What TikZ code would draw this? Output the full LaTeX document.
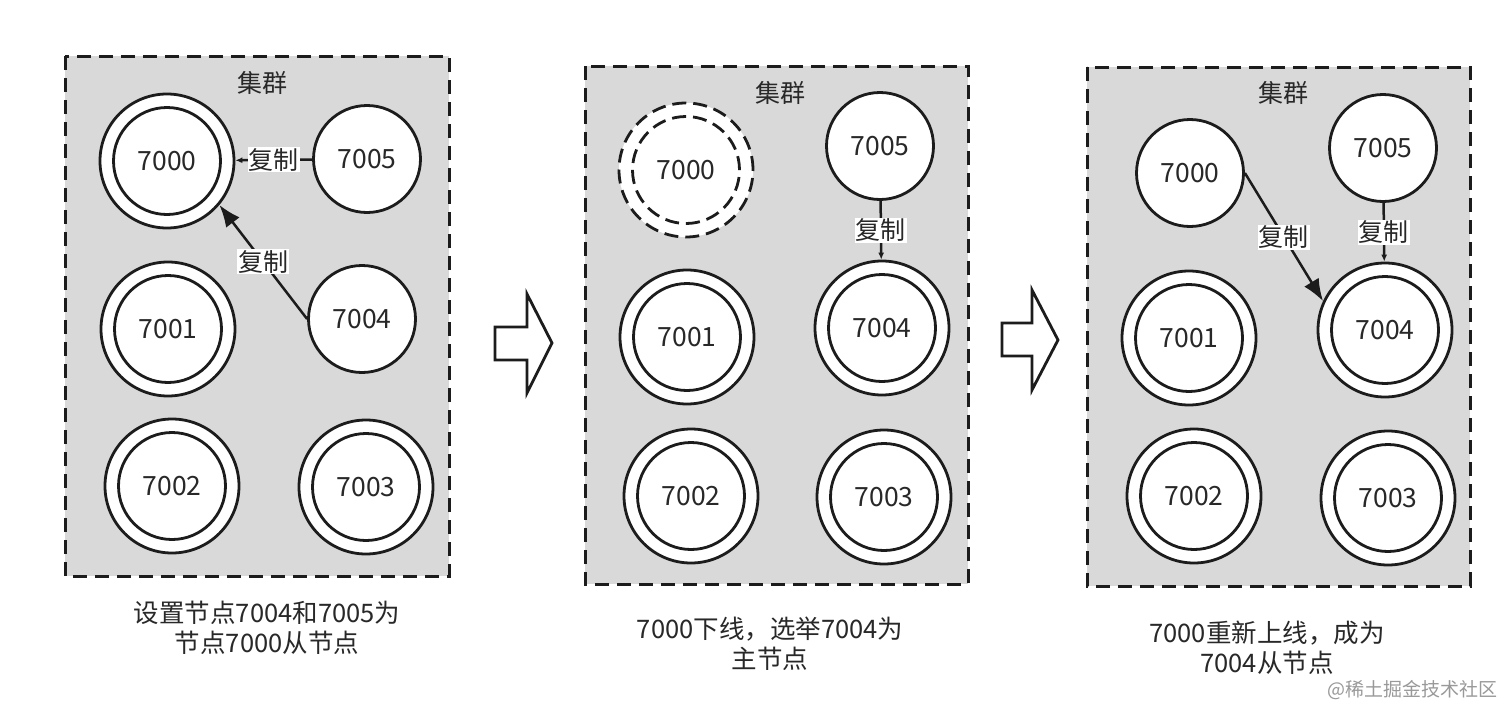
\documentclass[tikz,border=0pt]{standalone}
\usepackage{fontspec}
\setmainfont{Noto Sans CJK SC}
\usetikzlibrary{arrows.meta}
\definecolor{panelgray}{RGB}{217,217,217}
\definecolor{ink}{RGB}{28,28,28}
\definecolor{txt}{RGB}{40,40,40}
\begin{document}
\begin{tikzpicture}[x=1pt,y=-1pt,
  panel/.style={draw=ink, line width=3pt, dash pattern=on 14pt off 8pt, fill=panelgray},
  outerc/.style={circle, draw=ink, line width=2.8pt, fill=white, minimum size=134pt, inner sep=0pt},
  innerc/.style={circle, draw=ink, line width=2.8pt, fill=white, minimum size=107pt, inner sep=0pt, font=\fontsize{26.5}{30}\selectfont, text=txt},
  deadouter/.style={outerc, dash pattern=on 14pt off 7pt},
  deadinner/.style={innerc, dash pattern=on 14pt off 7pt},
  lbl/.style={fill=white, inner sep=1pt, font=\fontsize{25}{30}\selectfont, text=txt},
  title/.style={font=\fontsize{25}{30}\selectfont, text=txt},
  captext/.style={align=center, font=\fontsize{25.5}{30}\selectfont, text=txt},
  smallarr/.style={draw=ink, line width=2.5pt, -{Latex[length=7pt,width=6pt]}},
  bigarr/.style={draw=ink, line width=2.5pt, -{Latex[length=22pt,width=17pt]}},
  blockarr/.style={draw=ink, line width=2.8pt, fill=white, line join=miter}
]
\useasboundingbox (0,0) rectangle (1512,720);
\fill[white] (0,0) rectangle (1512,720);

% ---------- Panel 1 ----------
\draw[panel] (65,56) rectangle (449,576);
\node[title] (p1t) at (262,83) {集群};
\node[outerc] (p1o7000) at (167,161) {};
\node[innerc] (p1n7000) at (167,161) {7000};
\node[innerc] (p1n7005) at (367,159) {7005};
\node[outerc] (p1o7001) at (168,329) {};
\node[innerc] (p1n7001) at (168,329) {7001};
\node[innerc] (p1n7004) at (362,319) {7004};
\node[outerc] (p1o7002) at (172,486) {};
\node[innerc] (p1n7002) at (172,486) {7002};
\node[outerc] (p1o7003) at (366,487) {};
\node[innerc] (p1n7003) at (366,487) {7003};
\draw[smallarr] (p1n7005) -- node[lbl] {复制} (p1o7000);
\draw[bigarr] (p1n7004.west) -- node[lbl] {复制} (p1o7000.-40);
\node[captext] (p1c) at (267,628) {设置节点7004和7005为\\节点7000从节点};

% ---------- Arrow 1 ----------
\draw[blockarr] (495,327) -- (527,327) -- (527,294) -- (552,343) -- (527,393) -- (527,360) -- (495,360) -- cycle;

% ---------- Panel 2 ----------
\draw[panel] (585,66) rectangle (968,584);
\node[title] (p2t) at (780,93) {集群};
\node[deadouter] (p2o7000) at (686,170) {};
\node[deadinner] (p2n7000) at (686,170) {7000};
\node[innerc] (p2n7005) at (880,146) {7005};
\node[outerc] (p2o7001) at (687,337) {};
\node[innerc] (p2n7001) at (687,337) {7001};
\node[outerc] (p2o7004) at (882,328) {};
\node[innerc] (p2n7004) at (882,328) {7004};
\node[outerc] (p2o7002) at (691,496) {};
\node[innerc] (p2n7002) at (691,496) {7002};
\node[outerc] (p2o7003) at (884,497) {};
\node[innerc] (p2n7003) at (884,497) {7003};
\draw[smallarr] (p2n7005) -- node[lbl] {复制} (p2o7004);
\node[captext] (p2c) at (770,644) {7000下线，选举7004为\\主节点};

% ---------- Arrow 2 ----------
\draw[blockarr] (1002,323) -- (1032,323) -- (1032,290) -- (1058,340) -- (1032,390) -- (1032,356) -- (1002,356) -- cycle;

% ---------- Panel 3 ----------
\draw[panel] (1087,67) rectangle (1470,586);
\node[title] (p3t) at (1283,93) {集群};
\node[innerc] (p3n7000) at (1190,173) {7000};
\node[innerc] (p3n7005) at (1383,148) {7005};
\node[outerc] (p3o7001) at (1189,338) {};
\node[innerc] (p3n7001) at (1189,338) {7001};
\node[outerc] (p3o7004) at (1385,330) {};
\node[innerc] (p3n7004) at (1385,330) {7004};
\node[outerc] (p3o7002) at (1194,496) {};
\node[innerc] (p3n7002) at (1194,496) {7002};
\node[outerc] (p3o7003) at (1388,498) {};
\node[innerc] (p3n7003) at (1388,498) {7003};
\draw[smallarr] (p3n7005) -- node[lbl] {复制} (p3o7004);
\draw[bigarr] (p3n7000.east) -- node[lbl] {复制} (p3o7004.155);
\node[captext] (p3c) at (1267,648) {7000重新上线，成为\\7004从节点};

\node[font=\fontsize{19}{22}\selectfont, text=black!40] (wm) at (1412,690) {@稀土掘金技术社区};
\end{tikzpicture}
\end{document}
